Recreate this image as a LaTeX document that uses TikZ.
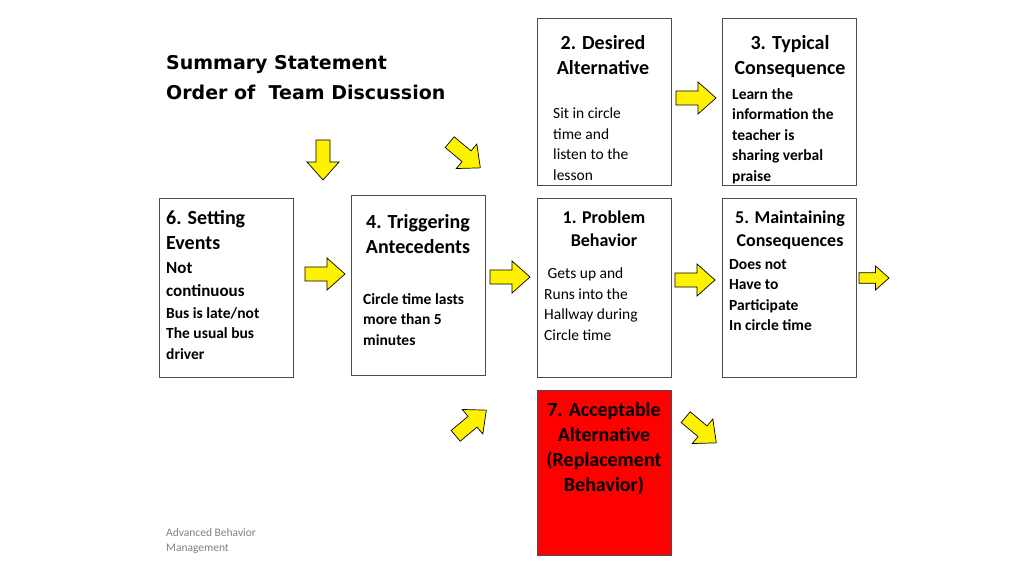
\documentclass[tikz,border=0pt]{standalone}
\usepackage{fontspec}
\setmainfont{Carlito}
\newfontfamily\titlefont{DejaVu Sans}
\begin{document}
\begin{tikzpicture}[x=1pt,y=-1pt,
  box/.style={draw=black!70,line width=0.8pt,anchor=north west,inner sep=0pt},
  head/.style={font=\fontsize{20}{25}\selectfont\bfseries,align=center},
  body/.style={font=\fontsize{15.5}{20.5}\selectfont,align=left,anchor=north west,inner sep=0pt},
  bbody/.style={body,font=\fontsize{15.5}{20.5}\selectfont\bfseries},
  barrow/.pic={\draw[fill=yellow,line width=0.7pt] (-20,-7)--(2,-7)--(2,-16)--(20,0)--(2,16)--(2,7)--(-20,7)--cycle;}]
\useasboundingbox (0,0) rectangle (1024,575);
% boxes
\node[box,minimum width=134,minimum height=179] (b6) at (159,198) {};
\node[box,minimum width=134,minimum height=180] (b4) at (351,195) {};
\node[box,minimum width=134,minimum height=179] (b1) at (537,198) {};
\node[box,minimum width=134,minimum height=179] (b5) at (722,198) {};
\node[box,minimum width=134,minimum height=167] (b2) at (537,18) {};
\node[box,minimum width=134,minimum height=167] (b3) at (722,18) {};
\node[box,fill=red,minimum width=134,minimum height=165] (b7) at (537,390) {};
% title
\node[anchor=north west,inner sep=0pt,align=left,font=\titlefont\fontsize{19}{30}\selectfont\bfseries] (title) at (166,55) {Summary Statement\\Order of~ Team Discussion};
% box texts
\node[head,anchor=north] (h2) at (603,32) {2. Desired\\Alternative};
\node[body] (t2) at (553,108) {Sit in circle\\time and\\listen to the\\lesson};
\node[head,anchor=north] (h3) at (790,32) {3. Typical\\Consequence};
\node[bbody] (t3) at (732,88) {Learn the\\information the\\teacher is\\sharing verbal\\praise};
\node[head,anchor=north west,align=left,inner sep=0pt] (h6) at (166,210) {6. Setting\\Events};
\node[bbody,font=\fontsize{17}{23}\selectfont\bfseries] (t6a) at (166,262) {Not\\continuous};
\node[bbody] (t6b) at (166,307) {Bus is late/not\\The usual bus\\driver};
\node[head,anchor=north] (h4) at (418,211) {4. Triggering\\Antecedents};
\node[bbody] (t4) at (363,293) {Circle time lasts\\more than 5\\minutes};
\node[head,anchor=north,font=\fontsize{18}{23}\selectfont\bfseries] (h1) at (604,207) {1. Problem\\Behavior};
\node[body] (t1) at (544,268) {~Gets up and\\Runs into the\\Hallway during\\Circle time};
\node[head,anchor=north,font=\fontsize{18}{23}\selectfont\bfseries] (h5) at (790,207) {5. Maintaining\\Consequences};
\node[bbody] (t5) at (729,259) {Does not\\Have to\\Participate\\In circle time};
\node[head,anchor=north] (h7) at (604,399) {7. Acceptable\\Alternative\\(Replacement\\Behavior)};
\node[anchor=north west,inner sep=0pt,align=left,text=gray,font=\fontsize{11.5}{15.5}\selectfont] (foot) at (166,528) {Advanced Behavior\\Management};
% arrows
\pic[rotate=-90] at (323,160) {barrow};
\pic at (325,274) {barrow};
\pic at (510,277) {barrow};
\pic at (695,280) {barrow};
\pic[scale=0.75] at (874,278) {barrow};
\pic at (696,98) {barrow};
\pic[rotate=-40] at (465,155) {barrow};
\pic[rotate=40] at (471,423) {barrow};
\pic[rotate=-40] at (701,430) {barrow};
\end{tikzpicture}
\end{document}
